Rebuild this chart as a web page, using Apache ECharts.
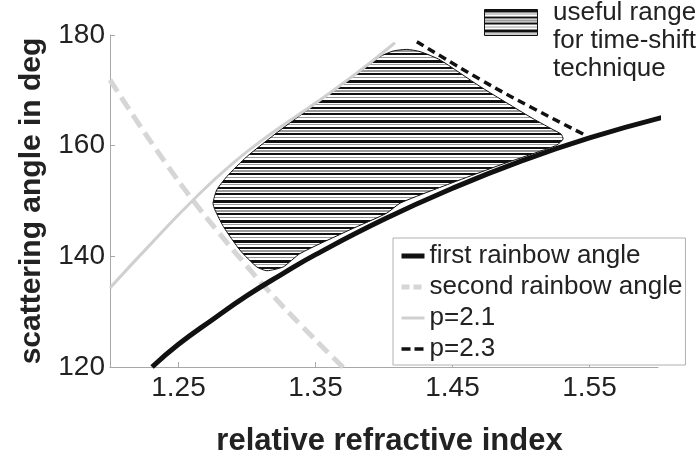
<!DOCTYPE html>
<html>
<head>
<meta charset="utf-8">
<script src="https://cdn.jsdelivr.net/npm/echarts@6/dist/echarts.min.js"></script>
<style>
html,body{margin:0;padding:0;background:#fff;}
#chart{width:700px;height:456px;}
</style>
</head>
<body>
<div id="chart"></div>
<script>
// ---- data ----
const xTicks = [1.25, 1.35, 1.45, 1.55];
const yTicks = [120, 140, 160, 180];

const firstX = [1.2307, 1.25, 1.275, 1.30, 1.325, 1.35, 1.40, 1.45, 1.50, 1.55, 1.603];
const firstY = [120.0, 124.1, 128.6, 132.9, 136.7, 140.3, 146.7, 152.3, 157.2, 161.4, 165.1];

const secondX = [1.20, 1.22, 1.24, 1.26, 1.28, 1.30, 1.32, 1.34, 1.36, 1.375];
const secondY = [171.9, 164.3, 157.1, 150.3, 144.1, 138.2, 132.6, 127.4, 122.4, 118.8];

const p21X = [1.20, 1.23, 1.26, 1.29, 1.32, 1.35, 1.38, 1.408];
const p21Y = [134.3, 142.3, 150.0, 156.9, 162.6, 167.7, 173.1, 178.6];

const p23X = [1.424, 1.47, 1.507, 1.547];
const p23Y = [178.8, 172.0, 167.0, 161.9];

// outline of the "useful range" region
const regionX = [1.2752, 1.2779, 1.2852, 1.2998, 1.3226, 1.3460, 1.3679, 1.3874, 1.3971, 1.4066, 1.4166, 1.4263, 1.4409, 1.4701, 1.5066, 1.5226, 1.5292, 1.5307, 1.5261, 1.5163, 1.4847, 1.4360, 1.4117, 1.4020, 1.3752, 1.3387, 1.3265, 1.3144, 1.3071, 1.2949, 1.2827, 1.2766];
const regionY = [149.6, 152.0, 154.4, 158.0, 162.5, 166.8, 170.8, 174.3, 176.1, 177.1, 177.4, 177.0, 175.5, 170.7, 165.2, 163.0, 162.1, 161.2, 160.1, 159.2, 156.5, 152.0, 149.6, 147.8, 144.8, 140.5, 138.1, 137.4, 138.1, 141.1, 145.4, 148.4];

const seriesNames = ['first rainbow angle', 'second rainbow angle', 'p=2.1', 'p=2.3'];
const rangeLabel = ['useful range', 'for time-shift', 'technique'];

// ---- stripe pattern ----
function makeStripes() {
  const rows = ['k','k','k','w','g','w','w','k','k','w','g','g','w','k','k','w','w','g','w','w'];
  const c = document.createElement('canvas');
  c.width = 4; c.height = rows.length;
  const ctx = c.getContext('2d');
  rows.forEach((r, i) => {
    ctx.fillStyle = r === 'k' ? '#111' : (r === 'g' ? '#9a9a9a' : '#fff');
    ctx.fillRect(0, i, 4, 1);
  });
  return c;
}
const stripes = makeStripes();
const pattern = { image: stripes, repeat: 'repeat' };

const zip = (xs, ys) => xs.map((x, i) => [x, ys[i]]);
const FONT = 'Liberation Sans';
const AX = '#a8a8a8';

const styles = [
  { color: '#111', width: 5, type: 'solid' },
  { color: '#d6d6d6', width: 5, type: [14, 7] },
  { color: '#d0d0d0', width: 3, type: 'solid' },
  { color: '#111', width: 3.5, type: [8, 5] }
];
const legendStyles = [
  { color: '#111', width: 5, type: 'solid' },
  { color: '#d6d6d6', width: 5, type: [8, 4] },
  { color: '#d0d0d0', width: 3, type: 'solid' },
  { color: '#111', width: 3.5, type: [9, 4] }
];

const chart = echarts.init(document.getElementById('chart'), null, { renderer: 'canvas' });
chart.setOption({
  animation: false,
  backgroundColor: '#fff',
  textStyle: { fontFamily: FONT },
  grid: { left: 110, top: 35, right: 42, bottom: 89, containLabel: false, outerBoundsMode: 'none' },
  xAxis: {
    type: 'value', min: 1.2, max: 1.6,
    name: 'relative refractive index', nameLocation: 'middle', nameGap: 59,
    nameTextStyle: { fontFamily: FONT, fontSize: 31, fontWeight: 'bold', color: '#222', padding: [0, 0, 0, 11] },
    axisLine: { show: true, lineStyle: { color: AX, width: 1 } },
    axisTick: { show: true, inside: true, length: 5, customValues: xTicks, lineStyle: { color: AX } },
    axisLabel: { customValues: xTicks, fontSize: 28, color: '#222', margin: 7, formatter: v => v.toFixed(2) },
    splitLine: { show: false }
  },
  yAxis: {
    type: 'value', min: yTicks[0], max: yTicks[yTicks.length - 1], interval: 20,
    name: 'scattering angle in deg', nameLocation: 'middle', nameGap: 63, nameRotate: 90,
    nameTextStyle: { fontFamily: FONT, fontSize: 30, fontWeight: 'bold', color: '#222' },
    axisLine: { show: true, lineStyle: { color: AX, width: 1 } },
    axisTick: { show: true, inside: true, length: 5, lineStyle: { color: AX } },
    axisLabel: { fontSize: 28, color: '#222', margin: 5 },
    splitLine: { show: false }
  },
  legend: {
    data: seriesNames.map((n, i) => ({
      name: n,
      itemStyle: { opacity: 0 },
      lineStyle: { color: legendStyles[i].color, width: legendStyles[i].width, type: legendStyles[i].type, cap: 'butt' }
    })),
    orient: 'vertical', left: 393, top: 238,
    padding: [5, 3, 3, 6], itemGap: 5, itemWidth: 23, itemHeight: 14,
    backgroundColor: '#fff', borderColor: '#b0b0b0', borderWidth: 1,
    textStyle: { fontFamily: FONT, fontSize: 26, color: '#222' },
    selectedMode: false
  },
  graphic: [
    { type: 'rect', left: 484, top: 9, shape: { width: 53, height: 26 }, style: { fill: pattern, stroke: '#111', lineWidth: 1 } },
    { type: 'text', x: 553, y: 13, style: { text: rangeLabel[0], font: '26px ' + FONT, fill: '#222', verticalAlign: 'middle' } },
    { type: 'text', x: 553, y: 41, style: { text: rangeLabel[1], font: '26px ' + FONT, fill: '#222', verticalAlign: 'middle' } },
    { type: 'text', x: 553, y: 69, style: { text: rangeLabel[2], font: '26px ' + FONT, fill: '#222', verticalAlign: 'middle' } }
  ],
  series: [
    {
      type: 'custom', name: 'useful range', z: 1,
      data: [[regionX[0], regionY[0]]],
      renderItem: (params, api) => ({
        type: 'polygon',
        shape: { points: regionX.map((x, i) => api.coord([x, regionY[i]])), smooth: 0.2 },
        style: { fill: pattern, stroke: '#111', lineWidth: 1 }
      })
    },
    {
      type: 'line', name: seriesNames[0], data: zip(firstX, firstY), smooth: true, symbol: 'none', z: 5,
      lineStyle: styles[0], itemStyle: { color: styles[0].color }
    },
    {
      type: 'line', name: seriesNames[1], data: zip(secondX, secondY), smooth: true, symbol: 'none', z: 3,
      lineStyle: styles[1], itemStyle: { color: styles[1].color }
    },
    {
      type: 'line', name: seriesNames[2], data: zip(p21X, p21Y), smooth: true, symbol: 'none', z: 3,
      lineStyle: styles[2], itemStyle: { color: styles[2].color }
    },
    {
      type: 'line', name: seriesNames[3], data: zip(p23X, p23Y), smooth: true, symbol: 'none', z: 4,
      lineStyle: styles[3], itemStyle: { color: styles[3].color }
    }
  ]
});
</script>
</body>
</html>
